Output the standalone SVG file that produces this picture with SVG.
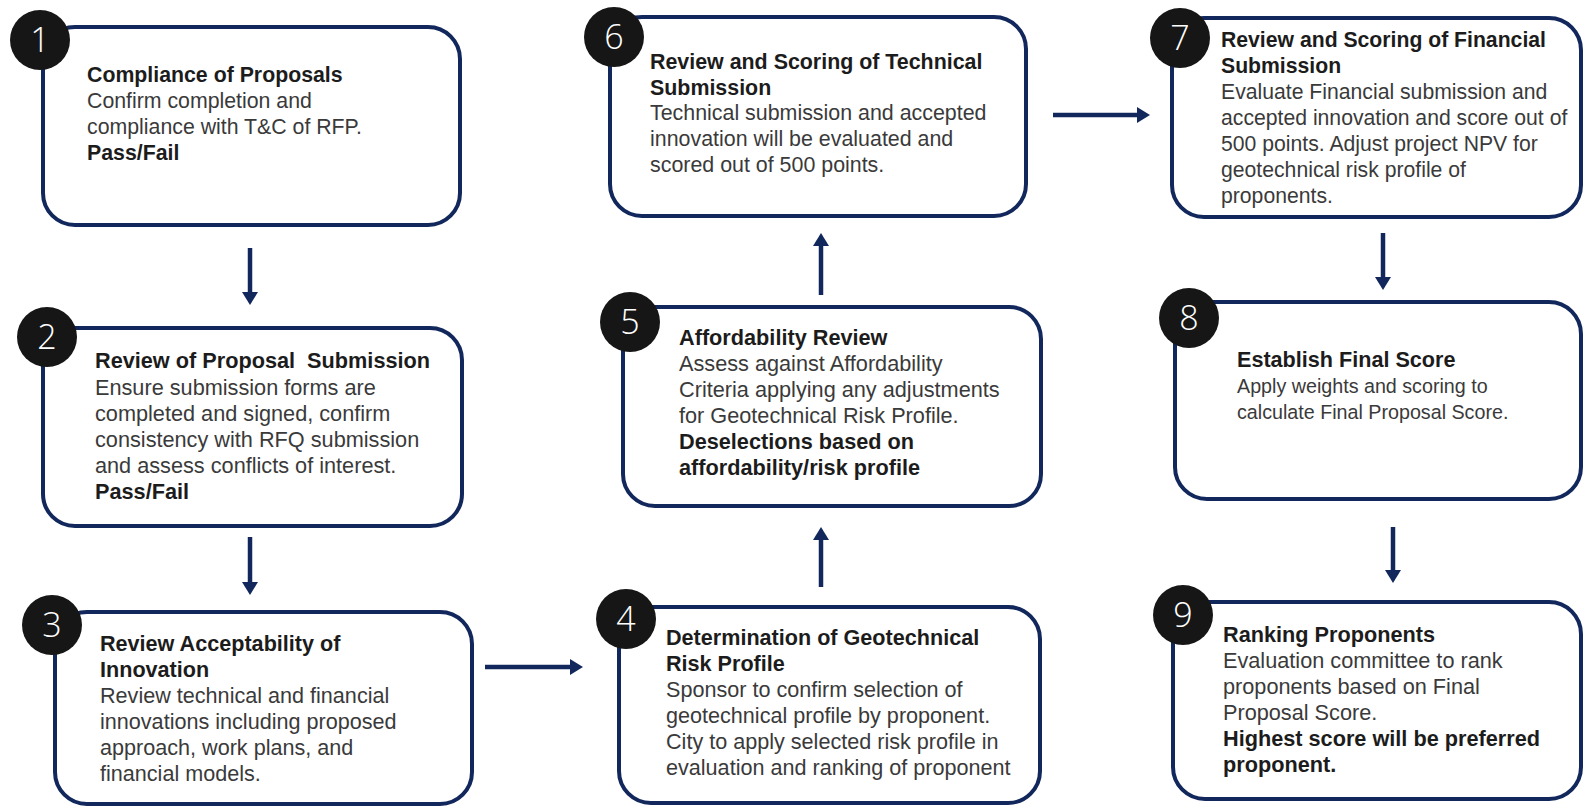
<svg xmlns="http://www.w3.org/2000/svg" width="1585" height="809" viewBox="0 0 1585 809">
<defs>
<style>
.box{fill:#ffffff;stroke:#12285c;stroke-width:4}
.num-c{fill:#161616}
.num{fill:#ffffff;font-family:"Open Sans","Liberation Sans",sans-serif;font-weight:300;font-size:34px;text-anchor:middle}
.t{font-family:"Liberation Sans",Arial,sans-serif;font-size:21.5px;fill:#3a3a3a}
.b{font-weight:bold;fill:#1c1c1c}
.conn{stroke:#12285c;stroke-width:4.5;fill:none}
</style>
<marker id="ah" markerUnits="userSpaceOnUse" markerWidth="14" markerHeight="16" refX="0" refY="8" orient="auto">
<path d="M0,0 L13,8 L0,16 z" fill="#12285c"/>
</marker>
</defs>
<rect width="1585" height="809" fill="#ffffff"/>

<g id="connectors">
<line class="conn" x1="250" y1="248" x2="250" y2="292" marker-end="url(#ah)"/>
<line class="conn" x1="250" y1="537" x2="250" y2="582" marker-end="url(#ah)"/>
<line class="conn" x1="485" y1="667" x2="570" y2="667" marker-end="url(#ah)"/>
<line class="conn" x1="821" y1="587" x2="821" y2="540" marker-end="url(#ah)"/>
<line class="conn" x1="821" y1="295" x2="821" y2="246" marker-end="url(#ah)"/>
<line class="conn" x1="1053" y1="115" x2="1137" y2="115" marker-end="url(#ah)"/>
<line class="conn" x1="1383" y1="233" x2="1383" y2="277" marker-end="url(#ah)"/>
<line class="conn" x1="1393" y1="527" x2="1393" y2="570" marker-end="url(#ah)"/>
</g>

<g id="node1">
<rect class="box" x="43" y="27" width="417" height="198" rx="32"/>
<circle class="num-c" cx="40" cy="40" r="30"/>
<text class="num" x="40" y="52">1</text>
<text class="t" style="font-size:21.3px"><tspan class="b" x="87" y="82">Compliance of Proposals</tspan><tspan x="87" y="108">Confirm completion and</tspan><tspan x="87" y="134">compliance with T&amp;C of RFP.</tspan><tspan class="b" x="87" y="160">Pass/Fail</tspan></text>
</g>

<g id="node2">
<rect class="box" x="43" y="328" width="419" height="198" rx="32"/>
<circle class="num-c" cx="47" cy="337" r="30"/>
<text class="num" x="47" y="349">2</text>
<text class="t" style="font-size:21.7px"><tspan class="b" x="95" y="368" xml:space="preserve">Review of Proposal  Submission</tspan><tspan x="95" y="395">Ensure submission forms are</tspan><tspan x="95" y="421">completed and signed, confirm</tspan><tspan x="95" y="447">consistency with RFQ submission</tspan><tspan x="95" y="473">and assess conflicts of interest.</tspan><tspan class="b" x="95" y="499">Pass/Fail</tspan></text>
</g>

<g id="node3">
<rect class="box" x="55" y="612" width="417" height="192" rx="32"/>
<circle class="num-c" cx="52" cy="625" r="30"/>
<text class="num" x="52" y="637">3</text>
<text class="t" style="font-size:21.6px"><tspan class="b" x="100" y="651">Review Acceptability of</tspan><tspan class="b" x="100" y="677">Innovation</tspan><tspan x="100" y="703">Review technical and financial</tspan><tspan x="100" y="729">innovations including proposed</tspan><tspan x="100" y="755">approach, work plans, and</tspan><tspan x="100" y="781">financial models.</tspan></text>
</g>

<g id="node4">
<rect class="box" x="619" y="607" width="421" height="196" rx="32"/>
<circle class="num-c" cx="626" cy="619" r="30"/>
<text class="num" x="626" y="631">4</text>
<text class="t" style="font-size:21.6px"><tspan class="b" x="666" y="645">Determination of Geotechnical</tspan><tspan class="b" x="666" y="671">Risk Profile</tspan><tspan x="666" y="697">Sponsor to confirm selection of</tspan><tspan x="666" y="723">geotechnical profile by proponent.</tspan><tspan x="666" y="749">City to apply selected risk profile in</tspan><tspan x="666" y="775">evaluation and ranking of proponent</tspan></text>
</g>

<g id="node5">
<rect class="box" x="623" y="307" width="418" height="199" rx="32"/>
<circle class="num-c" cx="630" cy="322" r="30"/>
<text class="num" x="630" y="334">5</text>
<text class="t" style="font-size:21.7px"><tspan class="b" x="679" y="345">Affordability Review</tspan><tspan x="679" y="371">Assess against Affordability</tspan><tspan x="679" y="397">Criteria applying any adjustments</tspan><tspan x="679" y="423">for Geotechnical Risk Profile.</tspan><tspan class="b" x="679" y="449">Deselections based on</tspan><tspan class="b" x="679" y="475">affordability/risk profile</tspan></text>
</g>

<g id="node6">
<rect class="box" x="610" y="17" width="416" height="199" rx="32"/>
<circle class="num-c" cx="614" cy="37" r="30"/>
<text class="num" x="614" y="49">6</text>
<text class="t" style="font-size:21.4px"><tspan class="b" x="650" y="69">Review and Scoring of Technical</tspan><tspan class="b" x="650" y="95">Submission</tspan><tspan x="650" y="120">Technical submission and accepted</tspan><tspan x="650" y="146">innovation will be evaluated and</tspan><tspan x="650" y="172">scored out of 500 points.</tspan></text>
</g>

<g id="node7">
<rect class="box" x="1172" y="18" width="409" height="199" rx="32"/>
<circle class="num-c" cx="1180" cy="38" r="30"/>
<text class="num" x="1180" y="50">7</text>
<text class="t" style="font-size:21.2px"><tspan class="b" x="1221" y="47">Review and Scoring of Financial</tspan><tspan class="b" x="1221" y="73">Submission</tspan><tspan x="1221" y="99">Evaluate Financial submission and</tspan><tspan x="1221" y="125">accepted innovation and score out of</tspan><tspan x="1221" y="151">500 points. Adjust project NPV for</tspan><tspan x="1221" y="177">geotechnical risk profile of</tspan><tspan x="1221" y="203">proponents.</tspan></text>
</g>

<g id="node8">
<rect class="box" x="1175" y="302" width="406" height="197" rx="32"/>
<circle class="num-c" cx="1189" cy="318" r="30"/>
<text class="num" x="1189" y="330">8</text>
<text class="t" style="font-size:19.7px"><tspan class="b" x="1237" y="367" style="font-size:21.6px">Establish Final Score</tspan><tspan x="1237" y="393">Apply weights and scoring to</tspan><tspan x="1237" y="419">calculate Final Proposal Score.</tspan></text>
</g>

<g id="node9">
<rect class="box" x="1173" y="602" width="408" height="197" rx="32"/>
<circle class="num-c" cx="1183" cy="615" r="30"/>
<text class="num" x="1183" y="627">9</text>
<text class="t" style="font-size:21.7px"><tspan class="b" x="1223" y="642">Ranking Proponents</tspan><tspan x="1223" y="668">Evaluation committee to rank</tspan><tspan x="1223" y="694">proponents based on Final</tspan><tspan x="1223" y="720">Proposal Score.</tspan><tspan class="b" x="1223" y="746">Highest score will be preferred</tspan><tspan class="b" x="1223" y="772">proponent.</tspan></text>
</g>
</svg>
